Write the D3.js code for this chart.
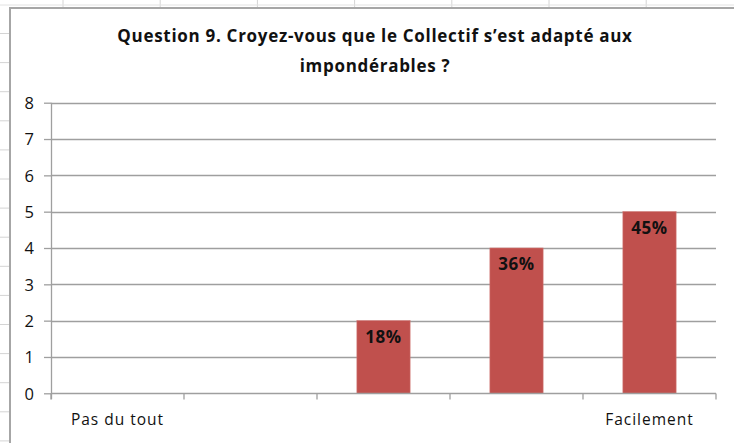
<!DOCTYPE html>
<html><head><meta charset="utf-8">
<script src="https://cdn.jsdelivr.net/npm/d3@7"></script>
<style>
html,body{margin:0;padding:0;background:#fff;}
svg{display:block;}
text{font-family:"Open Sans","Liberation Sans",sans-serif;}
</style></head>
<body>
<script>
const title = ["Question 9. Croyez-vous que le Collectif s\u2019est adapté aux", "impondérables ?"];
const categories = ["c1","c2","c3","c4","c5"];
const categoryLabels = ["Pas du tout","","","","Facilement"];
const values = [0,0,2,4,5];
const valueLabels = ["","","18%","36%","45%"];
const yTicks = [0,1,2,3,4,5,6,7,8];

const W=734,H=443;
const svg=d3.select("body").append("svg").attr("width",W).attr("height",H);
const FONT='"Open Sans","Liberation Sans",sans-serif';

// spreadsheet background
const bg=svg.append("g");
bg.selectAll("line.v").data(d3.range(63,734,97.2)).enter().append("line")
  .attr("x1",d=>d).attr("x2",d=>d).attr("y1",0).attr("y2",7)
  .attr("stroke","#d4d4d4").attr("stroke-width",1);
bg.append("line").attr("x1",0).attr("x2",W).attr("y1",5).attr("y2",5).attr("stroke","#e2e2e2");
bg.selectAll("line.h").data(d3.range(33.5,443,29.1)).enter().append("line")
  .attr("x1",0).attr("x2",9).attr("y1",d=>d).attr("y2",d=>d)
  .attr("stroke","#d4d4d4").attr("stroke-width",1);
// chart border
svg.append("path").attr("d","M10,443 V8 H734").attr("fill","none").attr("stroke","#a6a6a6").attr("stroke-width",2);
svg.append("rect").attr("x",11).attr("y",9).attr("width",W-11).attr("height",H-9).attr("fill","#fff");

const x0=51,x1=716,yTop=102.7,yBot=393.3;
const x=d3.scaleBand().domain(categories).range([x0,x1]).paddingInner(0.6).paddingOuter(0.3);
const xc=d3.scaleBand().domain(categories).range([x0,x1]);
const y=d3.scaleLinear().domain([0,8]).range([yBot,yTop]);

// gridlines
svg.append("g").selectAll("line").data(yTicks.slice(1)).enter().append("line")
  .attr("x1",x0).attr("x2",x1).attr("y1",d=>Math.round(y(d))+0.5).attr("y2",d=>Math.round(y(d))+0.5)
  .attr("stroke","#9f9f9f").attr("stroke-width",1.3);

// y axis
const ya=svg.append("g").attr("transform",`translate(${x0},0)`)
  .call(d3.axisLeft(y).tickValues(yTicks).tickSize(7).tickPadding(10).tickFormat(d3.format("d")));
ya.select(".domain").remove();
ya.append("line").attr("x1",0.5).attr("x2",0.5).attr("y1",yTop).attr("y2",yBot+6).attr("stroke","#9f9f9f").attr("stroke-width",1.3);
ya.selectAll(".tick line").attr("stroke","#9f9f9f").attr("stroke-width",1.3);
ya.selectAll(".tick text").attr("font-size",16.5).attr("fill","#111").attr("font-family",FONT).attr("dy","0.36em");

// bars
svg.append("g").selectAll("rect").data(values).enter().append("rect")
  .attr("x",(d,i)=>x(categories[i])).attr("width",x.bandwidth())
  .attr("y",d=>y(d)).attr("height",d=>y(0)-y(d))
  .attr("fill","#C0504D").attr("stroke","#d07572").attr("stroke-width",0.6);

// x axis
const xa=svg.append("g").attr("transform",`translate(0,${Math.round(yBot)+0.5})`);
xa.append("line").attr("x1",x0).attr("x2",x1).attr("stroke","#9f9f9f").attr("stroke-width",1.3);
xa.selectAll("line.t").data(d3.range(categories.length+1)).enter().append("line")
  .attr("x1",i=>x0+i*xc.step()).attr("x2",i=>x0+i*xc.step()).attr("y1",0).attr("y2",6)
  .attr("stroke","#9f9f9f").attr("stroke-width",1.3);
xa.selectAll("text").data(categoryLabels).enter().append("text")
  .attr("x",(d,i)=>xc(categories[i])+xc.bandwidth()/2).attr("y",31)
  .attr("text-anchor","middle").attr("font-size",15.5).attr("letter-spacing",1).attr("fill","#111").text(d=>d);

// value labels
svg.append("g").selectAll("text").data(values).enter().append("text")
  .attr("x",(d,i)=>x(categories[i])+x.bandwidth()/2).attr("y",d=>y(d)+22)
  .attr("text-anchor","middle").attr("font-size",17).attr("letter-spacing",0.6).attr("font-weight","bold").attr("fill","#111")
  .text((d,i)=>valueLabels[i]);

// title
svg.append("g").selectAll("text").data(title).enter().append("text")
  .attr("x",375).attr("y",(d,i)=>42+i*30).attr("text-anchor","middle")
  .attr("font-size",17).attr("letter-spacing",0.7).attr("font-weight","bold").attr("fill","#111").text(d=>d);
</script>
</body></html>
